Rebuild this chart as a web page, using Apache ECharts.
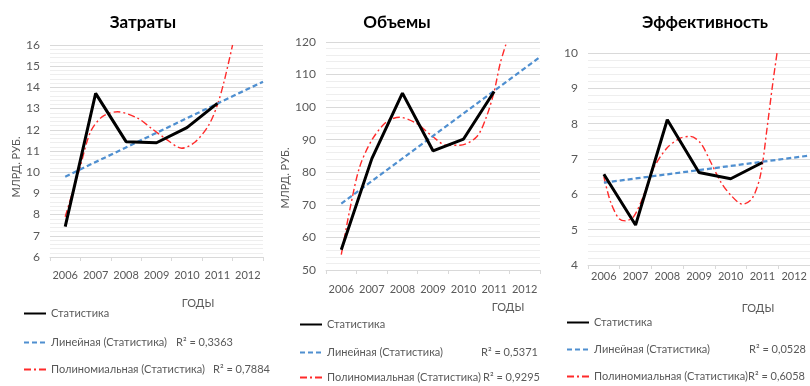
<!DOCTYPE html>
<html>
<head>
<meta charset="utf-8">
<script src="https://cdn.jsdelivr.net/npm/echarts@6/dist/echarts.min.js"></script>
<style>
  html, body { margin: 0; padding: 0; background: #ffffff; }
  #chart { width: 810px; height: 386px; }
</style>
</head>
<body>
<div id="chart"></div>
<script>
// Category labels and the years that carry observed values
const years = ['2006', '2007', '2008', '2009', '2010', '2011', '2012'];
const dataYears = [2006, 2007, 2008, 2009, 2010, 2011];

// Затраты, млрд руб.
const costFact = [7.43, 13.72, 11.44, 11.39, 12.1, 13.25];
const costLinear = [[2006, 9.79], [2012.5, 14.27]];
const costPoly = [[2006, 7.9], [2006.5, 10.3], [2006.83, 11.9], [2007.22, 12.62], [2007.72, 12.85],
  [2008.39, 12.54], [2008.83, 12.07], [2009.28, 11.6], [2009.83, 11.13], [2010.28, 11.44],
  [2010.72, 12.23], [2011.0, 13.17], [2011.22, 14.27], [2011.5, 16.0]];
const costR2 = ['0,3363', '0,7884'];

// Объемы, млрд руб.
const volumeFact = [56.2, 84.2, 104.3, 86.6, 90.2, 104.8];
const volumeLinear = [[2006, 70.4], [2012.5, 115.4]];
const volumePoly = [[2006, 54.7], [2006.3, 69.5], [2006.6, 81.6], [2007.0, 89.9], [2007.48, 95.5],
  [2007.91, 96.9], [2008.46, 95.0], [2009.0, 90.9], [2009.44, 88.3], [2009.88, 88.3],
  [2010.43, 90.9], [2010.75, 97.1], [2011.0, 104.8], [2011.2, 113.5], [2011.41, 120.0]];
const volumeR2 = ['0,5371', '0,9295'];

// Эффективность
const effFact = [6.57, 5.13, 8.11, 6.62, 6.44, 6.9];
const effLinear = [[2006, 6.33], [2012.5, 7.1]];
const effPoly = [[2006, 6.5], [2006.21, 5.79], [2006.47, 5.32], [2006.68, 5.25], [2006.94, 5.37],
  [2007.26, 5.98], [2007.57, 6.74], [2007.99, 7.31], [2008.41, 7.59], [2008.73, 7.64],
  [2009.05, 7.45], [2009.36, 6.93], [2009.68, 6.36], [2010.0, 5.98], [2010.37, 5.72],
  [2010.68, 5.89], [2010.94, 6.55], [2011.15, 7.9], [2011.32, 9.1], [2011.46, 10.0]];
const effR2 = ['0,0528', '0,6058'];

const NAME_FACT = 'Статистика';
const NAME_LINEAR = 'Линейная (Статистика)';
const NAME_POLY = 'Полиномиальная (Статистика)';

const panels = [
  {
    title: 'Затраты', fact: costFact, linear: costLinear, poly: costPoly, r2: costR2,
    yMin: 6, yMax: 16, yStep: 1,
    grid: { left: 50, top: 45, width: 213, height: 212 },
    titleX: 143, labelMargin: 13, unit: { x: 16, y: 167 },
    yearsPos: [198, 303], legendX: 23, legendY: [314, 343, 370], r2Width: [125, 162]
  },
  {
    title: 'Объемы', fact: volumeFact, linear: volumeLinear, poly: volumePoly, r2: volumeR2,
    yMin: 50, yMax: 120, yStep: 10,
    grid: { left: 326, top: 42, width: 214, height: 228 },
    titleX: 397, labelMargin: 14, unit: { x: 285, y: 178 },
    yearsPos: [508, 307], legendX: 299, legendY: [325, 353, 378], r2Width: [154, 156]
  },
  {
    title: 'Эффективность', fact: effFact, linear: effLinear, poly: effPoly, r2: effR2,
    yMin: 4, yMax: 10, yStep: 1,
    grid: { left: 588, top: 53, width: 222, height: 212 },
    titleX: 705, labelMargin: 6, unit: null,
    yearsPos: [758, 308], legendX: 566, legendY: [323, 350, 377], r2Width: [155, 154]
  }
];

const FONT = 'Lato, "Open Sans", sans-serif';
const GREY_TEXT = '#595959';

const option = {
  backgroundColor: '#ffffff',
  animation: false,
  title: [], grid: [], xAxis: [], yAxis: [], series: [], legend: [], graphic: []
};

panels.forEach((p, i) => {
  option.title.push({
    text: p.title, left: p.titleX, top: 14, textAlign: 'center', padding: 0,
    textStyle: { fontFamily: FONT, fontWeight: 'bold', fontSize: 17, color: '#000000' }
  });

  option.grid.push(Object.assign({ containLabel: false }, p.grid));

  // visible category axis: year labels and boundary ticks
  option.xAxis.push({
    type: 'category', gridIndex: i, data: years, boundaryGap: true,
    axisLine: { lineStyle: { color: '#D9D9D9', width: 1 } },
    axisTick: { show: true, interval: 0, length: 4, lineStyle: { color: '#D9D9D9' } },
    axisLabel: { interval: 0, margin: p.labelMargin, color: GREY_TEXT, fontFamily: FONT, fontSize: 11 },
    splitLine: { show: false }
  });
  // hidden value axis that positions the series by year
  option.xAxis.push({
    type: 'value', gridIndex: i, min: 2005.5, max: 2012.5, show: false,
    splitLine: { show: false }
  });

  option.yAxis.push({
    type: 'value', gridIndex: i, min: p.yMin, max: p.yMax, interval: p.yStep,
    axisLine: { show: false }, axisTick: { show: false },
    axisLabel: { margin: 10, color: GREY_TEXT, fontFamily: FONT, fontSize: 12 },
    splitLine: { show: true, lineStyle: { color: '#D9D9D9', width: 1 } },
    minorTick: { show: false, splitNumber: 5 },
    minorSplitLine: { show: true, lineStyle: { color: '#EEEEEE', width: 1 } }
  });

  const xIdx = i * 2 + 1;
  option.series.push({
    name: NAME_POLY, type: 'line', xAxisIndex: xIdx, yAxisIndex: i,
    data: p.poly, symbol: 'none', smooth: 0.3, clip: true, z: 3,
    lineStyle: { color: '#FF2A2A', width: 1.4, type: [7, 3, 2, 3] },
    itemStyle: { color: '#FF2A2A' }
  });
  option.series.push({
    name: NAME_LINEAR, type: 'line', xAxisIndex: xIdx, yAxisIndex: i,
    data: p.linear, symbol: 'none', clip: true, z: 4,
    lineStyle: { color: '#4F8FD0', width: 2.25, type: [5, 3] },
    itemStyle: { color: '#4F8FD0' }
  });
  option.series.push({
    name: NAME_FACT, type: 'line', xAxisIndex: xIdx, yAxisIndex: i,
    data: dataYears.map((y, k) => [y, p.fact[k]]), symbol: 'none', z: 5,
    lineStyle: { color: '#000000', width: 3 },
    itemStyle: { color: '#000000' }
  });

  const legendBase = {
    orient: 'horizontal', left: p.legendX, itemWidth: 22, itemHeight: 12, itemGap: 0,
    padding: 0, selectedMode: false,
    itemStyle: { opacity: 0 },
    textStyle: { fontFamily: FONT, fontSize: 11, color: GREY_TEXT }
  };
  const richText = w => Object.assign({}, legendBase.textStyle, {
    rich: {
      n: { width: w, fontFamily: FONT, fontSize: 11, color: GREY_TEXT },
      r: { fontFamily: FONT, fontSize: 11, color: GREY_TEXT }
    }
  });
  option.legend.push(Object.assign({}, legendBase, {
    top: p.legendY[0] - 6, data: [NAME_FACT]
  }));
  option.legend.push(Object.assign({}, legendBase, {
    top: p.legendY[1] - 6, data: [NAME_LINEAR],
    formatter: name => '{n|' + name + '}{r|R² = ' + p.r2[0] + '}',
    textStyle: richText(p.r2Width[0])
  }));
  option.legend.push(Object.assign({}, legendBase, {
    top: p.legendY[2] - 6, data: [NAME_POLY],
    formatter: name => '{n|' + name + '}{r|R² = ' + p.r2[1] + '}',
    textStyle: richText(p.r2Width[1])
  }));

  // x-axis name
  option.graphic.push({
    type: 'text', x: p.yearsPos[0], y: p.yearsPos[1],
    style: { text: 'ГОДЫ', fill: GREY_TEXT, font: '11px ' + FONT, align: 'center', verticalAlign: 'middle' }
  });
  // y-axis name
  if (p.unit) {
    option.graphic.push({
      type: 'text', x: p.unit.x, y: p.unit.y, rotation: Math.PI / 2,
      style: { text: 'МЛРД. РУБ.', fill: GREY_TEXT, font: '11px ' + FONT, align: 'center', verticalAlign: 'middle' }
    });
  }
});

const chart = echarts.init(document.getElementById('chart'), null, { renderer: 'canvas' });
chart.setOption(option);
</script>
</body>
</html>
